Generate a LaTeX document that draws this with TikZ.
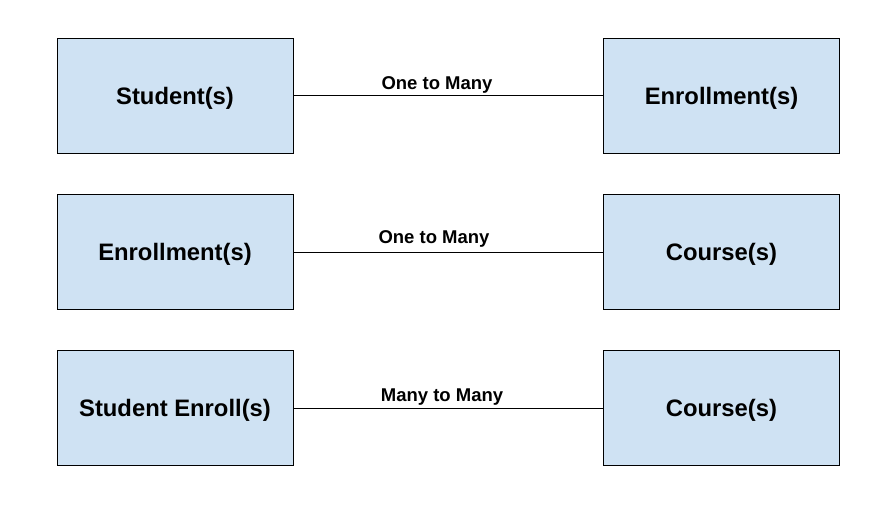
\documentclass[tikz,border=0pt]{standalone}
\usepackage{fontspec}
\setmainfont{Liberation Sans}
\definecolor{boxblue}{HTML}{CFE2F3}
\begin{document}
\begin{tikzpicture}[x=1pt, y=-1pt,
    entity/.style={draw=black, fill=boxblue, line width=0.8pt, minimum width=236pt,
        minimum height=115pt, inner sep=0pt, text height=20pt, text depth=3pt,
        font=\bfseries\fontsize{23.8}{26}\selectfont},
    rel/.style={anchor=base, inner sep=0pt, font=\bfseries\fontsize{18.5}{20}\selectfont},
    link/.style={draw=black, line width=0.8pt}]
    \useasboundingbox (0,0) rectangle (885,515);

        \node[entity] (student) at (175,95.5) {Student(s)};
        \node[entity] (enrollA) at (721.5,95.5) {Enrollment(s)};
        \draw[link] (student) -- (enrollA);
        \node[rel] (relA) at (437,89) {One to Many};

        \node[entity] (enrollB) at (175,252) {Enrollment(s)};
        \node[entity] (courseA) at (721.5,252) {Course(s)};
        \draw[link] (enrollB) -- (courseA);
        \node[rel] (relB) at (434,243) {One to Many};

        \node[entity] (studenroll) at (175,408) {Student Enroll(s)};
        \node[entity] (courseB) at (721.5,408) {Course(s)};
        \draw[link] (studenroll) -- (courseB);
        \node[rel] (relC) at (442,401) {Many to Many};
\end{tikzpicture}
\end{document}
